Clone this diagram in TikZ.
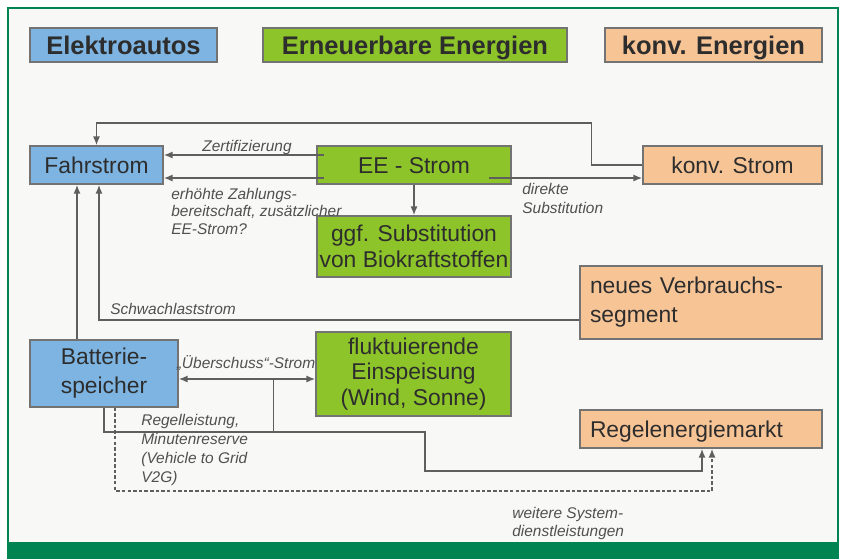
\documentclass[tikz,border=0pt]{standalone}
\usepackage{fontspec}
\setmainfont{Liberation Sans}
\usepackage{tikz}
\usetikzlibrary{arrows.meta,positioning,calc}
\usepackage{xcolor}
\definecolor{framegreen}{RGB}{0,133,82}
\definecolor{evblue}{RGB}{125,180,225}
\definecolor{eegreen}{RGB}{141,196,42}
\definecolor{convpeach}{RGB}{247,196,150}
\definecolor{boxline}{RGB}{115,115,115}
\definecolor{textgray}{RGB}{45,45,45}
\definecolor{labelgray}{RGB}{80,80,80}
\definecolor{linegray}{RGB}{95,95,95}
\definecolor{paper}{RGB}{248,248,246}
\newdimen\pxu \pxu=0.02cm

\tikzset{
  box/.style={draw=boxline, line width=0.9pt, text=textgray, inner sep=0pt,
    font=\fontsize{13}{14.5}\selectfont},
  oneline/.style={text height=9.3pt, text depth=0pt},
  headbox/.style={box, minimum height=34\pxu, text height=10.4pt, text depth=0pt,
    font=\fontsize{14.5}{17}\selectfont\bfseries},
  lbl/.style={text=labelgray, inner sep=0pt, align=left,
    font=\fontsize{8.8}{10.3}\selectfont\itshape},
  flow/.style={draw=linegray, line width=0.8pt, -{Latex[length=5pt,width=4pt]}},
  flowboth/.style={flow, {Latex[length=5pt,width=4pt]}-{Latex[length=5pt,width=4pt]}},
  flowline/.style={draw=linegray, line width=0.8pt},
  flowdash/.style={flow, dash pattern=on 2pt off 1.2pt},
}

\begin{document}
\begin{tikzpicture}[x=0.02cm,y=-0.02cm]
    % Frame
    \useasboundingbox (0,0) rectangle (845,559);
    \fill[white] (0,0) rectangle (845,559);
    \fill[paper] (8,8) rectangle (838,543);
    \draw[framegreen,line width=1.4pt] (8,8) rectangle (838,543);
    \fill[framegreen] (7,543) rectangle (839,559);

    % Legend
    \node[headbox,fill=evblue,minimum width=187\pxu] (hdev) at (123.5,45) {Elektroautos};
    \node[headbox,fill=eegreen,minimum width=304\pxu] (hdee) at (415,45) {Erneuerbare Energien};
    \node[headbox,fill=convpeach,minimum width=217\pxu] (hdconv) at (713.5,45) {konv. Energien};

    % Boxes
    \node[box,oneline,fill=evblue,minimum width=133\pxu,minimum height=38\pxu] (fahr) at (96.5,165) {Fahrstrom};
    \node[box,oneline,fill=eegreen,minimum width=194\pxu,minimum height=38\pxu] (ee) at (414,165) {EE - Strom};
    \node[box,oneline,fill=convpeach,minimum width=179\pxu,minimum height=38\pxu] (konv) at (732.5,165) {konv. Strom};
    \node[box,fill=eegreen,minimum width=194\pxu,minimum height=61\pxu,align=center] (ggf) at (414,246.5)
      {ggf. Substitution\\von Biokraftstoffen};
    \node[box,fill=convpeach,minimum width=242\pxu,minimum height=73\pxu,text width=222\pxu,align=left,
      font=\fontsize{13}{16.5}\selectfont] (neu) at (701,302.5) {neues Verbrauchs-\\segment};
    \node[box,fill=evblue,minimum width=148\pxu,minimum height=67\pxu,align=center,
      font=\fontsize{13}{16.5}\selectfont] (batt) at (104,373.5) {Batterie-\\speicher};
    \node[box,fill=eegreen,minimum width=195\pxu,minimum height=84\pxu,align=center] (flu) at (413.5,374)
      {fluktuierende\\Einspeisung\\(Wind, Sonne)};
    \node[box,oneline,fill=convpeach,minimum width=242\pxu,minimum height=38\pxu,text width=222\pxu] (reg) at (701,429)
      {Regelenergiemarkt};

    % Fahrstrom
    \draw[flow] (konv.west) -- ++(-51,0) |- (96.5,123) -- (fahr.north);
    \draw[flow] ($(ee.west)+(8,-10)$) coordinate (z1) -- (z1 -| fahr.east);
    \draw[flow] ($(ee.west)+(8,13)$) coordinate (z2) -- (z2 -| fahr.east);
    \draw[flow] ($(ee.east)+(-23,13)$) coordinate (d1) -- (d1 -| konv.west);
    \draw[flow] (ee.south) -- (ggf.north);
    \coordinate (f1) at ($(fahr.south)+(-19.5,0)$);
    \coordinate (f2) at ($(fahr.south)+(2.5,0)$);
    \draw[flow] ($(neu.west)+(0,17.5)$) -| (f2);
    \draw[flow] (batt.north -| f1) -- (f1);

    % Batteriespeicher
    \draw[flowboth] ($(batt.east)+(0,5.5)$) coordinate (u1) -- (u1 -| flu.west);
    \draw[flowline] ($(u1)+(95,0)$) -- ++(0,52);
    \draw[flow] (batt.south) -- ++(0,24) -| (425,471) -| ($(reg.south)+(1,0)$);
    \draw[flowdash] ($(batt.south)+(11,0)$) |- ($(reg.south)+(11,42)$) -- ($(reg.south)+(11,0)$);

    % Labels
    \node[lbl] (lzert) at (247,147) {Zertifizierung};
    \node[lbl,anchor=north west,font=\fontsize{8.8}{9.9}\selectfont\itshape] (lzahl) at (171,188)
      {erhöhte Zahlungs-\\bereitschaft, zusätzlicher\\EE-Strom?};
    \node[lbl,anchor=north west,font=\fontsize{8.8}{10.8}\selectfont\itshape] (ldir) at (522,183) {direkte\\Substitution};
    \node[lbl,anchor=west] (lschw) at (110,309) {Schwachlaststrom};
    \node[lbl] (lueb) at (246,363) {„Überschuss“-Strom};
    \node[lbl,anchor=north west,font=\fontsize{8.8}{10.8}\selectfont\itshape] (lregel) at (141,414)
      {Regelleistung,\\Minutenreserve\\(Vehicle to Grid\\V2G)};
    \node[lbl,anchor=north west] (lweit) at (512,507) {weitere System-\\dienstleistungen};
\end{tikzpicture}
\end{document}
